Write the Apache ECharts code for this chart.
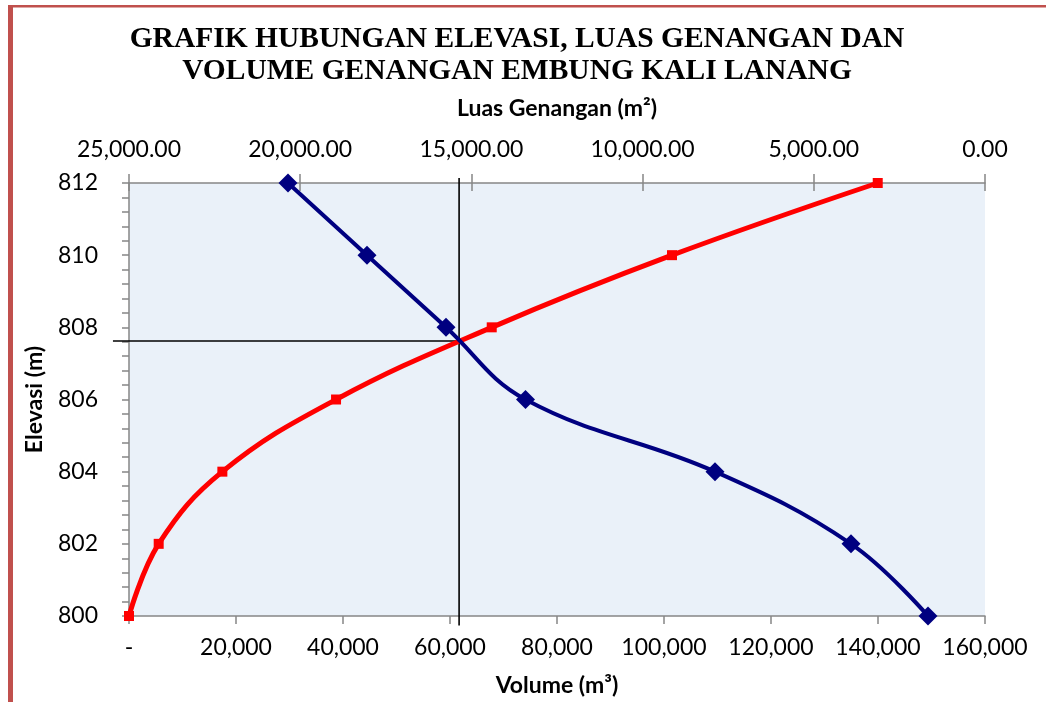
<!DOCTYPE html>
<html>
<head>
<meta charset="utf-8">
<script src="https://cdn.jsdelivr.net/npm/echarts@6/dist/echarts.min.js"></script>
<style>
html,body{margin:0;padding:0;background:#fff;}
#chart{width:1046px;height:702px;}
</style>
</head>
<body>
<div id="chart"></div>
<script>
// ---- data ----
const elevations = [800, 802, 804, 806, 808, 810, 812];
const volumes = [0, 5550, 17450, 38700, 67800, 101500, 139950];        // m3 (bottom axis)
const areas = [1665, 3914, 7886, 13420, 15742, 18049, 20356];          // m2 (top axis, reversed)
const crossVolume = 61700;
const crossElevation = 807.62;
const crossVerticalElevRange = [812.14, 799.74];
const crossHorizontalVolRange = [-3000, 61700];
const volumeTicks = {min: 0, max: 160000, interval: 20000};
const areaTicks = {min: 0, max: 25000, interval: 5000};
const elevTicks = {min: 800, max: 812, interval: 2};

const chart = echarts.init(document.getElementById('chart'), null, {renderer: 'canvas'});
const labelFont = 'Lato';
const axisGray = '#868686';

function fmtVol(v) {
  if (v === 0) return '-';
  return v.toLocaleString('en-US');
}
function fmtArea(v) {
  return v.toLocaleString('en-US', {minimumFractionDigits: 2, maximumFractionDigits: 2});
}

const frame = [
  {type: 'rect', shape: {x: 8, y: 5, width: 5, height: 697}, style: {fill: '#c0504d'}, silent: true, z: 100},
  {type: 'rect', shape: {x: 8, y: 5, width: 1038, height: 2.5}, style: {fill: '#c0504d'}, silent: true, z: 100}
];

const option = {
  backgroundColor: '#ffffff',
  animation: false,
  title: {
    text: 'GRAFIK HUBUNGAN ELEVASI, LUAS GENANGAN DAN\nVOLUME GENANGAN EMBUNG KALI LANANG',
    left: 512,
    top: 18,
    textAlign: 'center',
    textStyle: {
      fontFamily: 'Liberation Serif',
      fontWeight: 'bold',
      fontSize: 29.5,
      lineHeight: 32,
      color: '#000'
    }
  },
  graphic: frame,
  grid: {
    left: 129, right: 61, top: 183, bottom: 86,
    show: true, backgroundColor: '#eaf1f9', borderWidth: 0
  },
  xAxis: [
    {
      type: 'value', position: 'bottom',
      min: volumeTicks.min, max: volumeTicks.max, interval: volumeTicks.interval,
      name: 'Volume (m³)', nameLocation: 'middle', nameGap: 58,
      nameTextStyle: {fontFamily: labelFont, fontWeight: 'bold', fontSize: 23, color: '#000'},
      axisLine: {show: true, onZero: false, lineStyle: {color: axisGray, width: 1.5}},
      axisTick: {show: true, length: 8, lineStyle: {color: axisGray, width: 1.5}},
      axisLabel: {formatter: fmtVol, fontFamily: labelFont, fontSize: 23, color: '#000', margin: 20},
      splitLine: {show: false}
    },
    {
      type: 'value', position: 'top', inverse: true,
      min: areaTicks.min, max: areaTicks.max, interval: areaTicks.interval,
      name: 'Luas Genangan (m²)', nameLocation: 'middle', nameGap: 63,
      nameTextStyle: {fontFamily: labelFont, fontWeight: 'bold', fontSize: 23, color: '#000'},
      axisLine: {show: true, onZero: false, lineStyle: {color: axisGray, width: 1.5}},
      axisTick: {show: true, length: 9, lineStyle: {color: axisGray, width: 1.5}},
      axisLabel: {formatter: fmtArea, fontFamily: labelFont, fontSize: 23, color: '#000', margin: 22},
      splitLine: {show: false}
    },
    {
      type: 'value', position: 'top', inverse: true,
      min: areaTicks.min, max: areaTicks.max, interval: areaTicks.interval,
      axisLine: {show: false},
      axisTick: {show: true, inside: true, length: 8, lineStyle: {color: axisGray, width: 1.5}},
      axisLabel: {show: false},
      splitLine: {show: false}
    }
  ],
  yAxis: [
    {
      type: 'value',
      min: elevTicks.min, max: elevTicks.max, interval: elevTicks.interval,
      name: 'Elevasi (m)', nameLocation: 'middle', nameGap: 83, nameRotate: 90,
      nameTextStyle: {fontFamily: labelFont, fontWeight: 'bold', fontSize: 23, color: '#000'},
      axisLine: {show: true, onZero: false, lineStyle: {color: axisGray, width: 1.5}},
      axisTick: {show: true, length: 7, lineStyle: {color: axisGray, width: 1.5}},
      minorTick: {show: true, splitNumber: 5, length: 7, lineStyle: {color: axisGray, width: 1.5}},
      axisLabel: {fontFamily: labelFont, fontSize: 23, color: '#000', margin: 31},
      splitLine: {show: false}
    }
  ],
  series: [
    {
      name: 'Volume',
      type: 'line',
      xAxisIndex: 0,
      data: volumes.map((v, i) => [v, elevations[i]]),
      smooth: 0.4,
      symbol: 'rect', symbolSize: 10,
      lineStyle: {color: '#ff0000', width: 5},
      itemStyle: {color: '#ff0000'},
      clip: false, z: 3
    },
    {
      name: 'Luas',
      type: 'line',
      xAxisIndex: 1,
      data: areas.map((v, i) => [v, elevations[i]]),
      smooth: 0.4,
      symbol: 'diamond', symbolSize: 19,
      lineStyle: {color: '#000080', width: 4},
      itemStyle: {color: '#000080'},
      clip: false, z: 4
    }
  ]
};
chart.setOption(option);

// Crosshair lines, positioned through the chart's own scales
const vTop = chart.convertToPixel({xAxisIndex: 0, yAxisIndex: 0}, [crossVolume, crossVerticalElevRange[0]]);
const vBot = chart.convertToPixel({xAxisIndex: 0, yAxisIndex: 0}, [crossVolume, crossVerticalElevRange[1]]);
const hLeft = chart.convertToPixel({xAxisIndex: 0, yAxisIndex: 0}, [crossHorizontalVolRange[0], crossElevation]);
const hRight = chart.convertToPixel({xAxisIndex: 0, yAxisIndex: 0}, [crossHorizontalVolRange[1], crossElevation]);
chart.setOption({
  graphic: frame.concat([
    {type: 'line', shape: {x1: vTop[0], y1: vTop[1], x2: vBot[0], y2: vBot[1]},
     style: {stroke: '#000', lineWidth: 1.6}, silent: true, z: 2},
    {type: 'line', shape: {x1: hLeft[0], y1: hLeft[1], x2: hRight[0], y2: hRight[1]},
     style: {stroke: '#000', lineWidth: 1.6}, silent: true, z: 2}
  ])
});
</script>
</body>
</html>
